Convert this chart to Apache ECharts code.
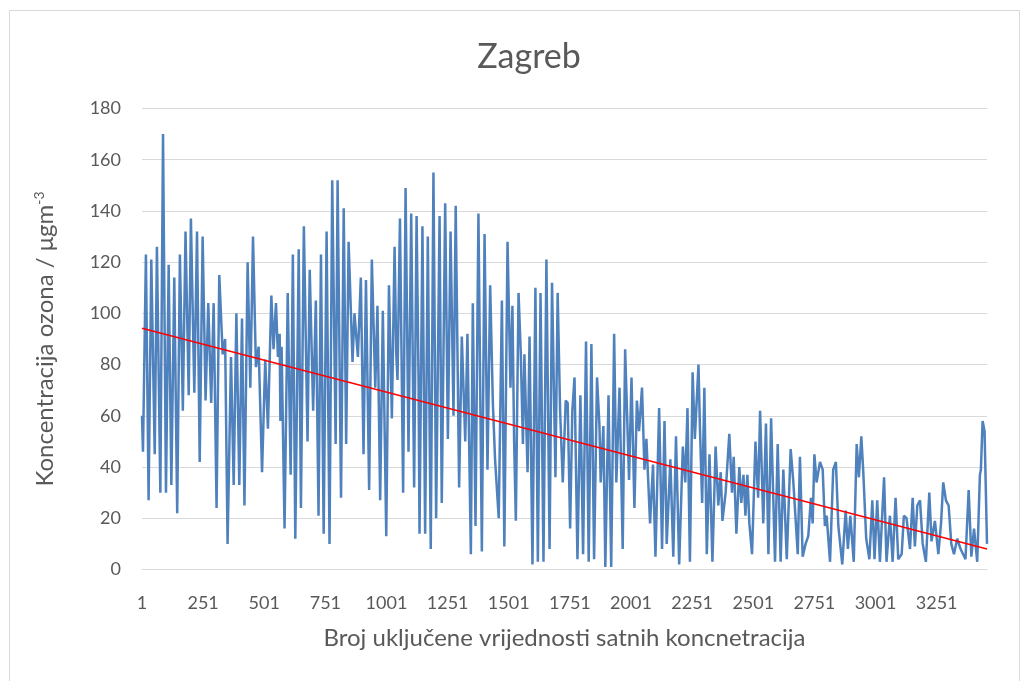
<!DOCTYPE html>
<html>
<head>
<meta charset="utf-8">
<script src="https://cdn.jsdelivr.net/npm/echarts@6/dist/echarts.min.js"></script>
<style>
  html, body { margin: 0; padding: 0; background: #fff; }
  #chart { width: 1027px; height: 681px; }
</style>
</head>
<body>
<div id="chart"></div>
<script>
// hourly ozone in Zagreb, peaks and troughs
const sampleNo = [
  1, 5, 17, 28, 39, 53, 62, 76, 87, 99, 110, 121, 133, 145, 156, 168, 179, 192, 201, 215,
  226, 237, 249, 261, 272, 284, 294, 306, 317, 331, 341, 351, 365, 376, 387, 399, 410, 420,
  433, 444, 455, 467, 478, 492, 505, 516, 530, 539, 549, 557, 564, 567, 572, 584, 597, 609,
  618, 628, 642, 651, 663, 678, 687, 701, 712, 723, 733, 744, 756, 768, 779, 793, 801, 815,
  826, 836, 846, 862, 870, 884, 896, 907, 917, 930, 941, 955, 964, 975, 986, 1000, 1011,
  1023, 1034, 1041, 1046, 1056, 1069, 1079, 1091, 1102, 1114, 1124, 1132, 1136, 1148, 1159,
  1170, 1182, 1193, 1204, 1218, 1227, 1241, 1252, 1263, 1275, 1284, 1298, 1309, 1323, 1332,
  1346, 1354, 1365, 1377, 1391, 1402, 1414, 1425, 1436, 1445, 1460, 1473, 1483, 1496, 1508,
  1516, 1523, 1530, 1541, 1550, 1559, 1565, 1578, 1586, 1598, 1610, 1620, 1631, 1643, 1655,
  1668, 1678, 1692, 1701, 1711, 1722, 1734, 1742, 1752, 1761, 1770, 1782, 1794, 1805, 1817,
  1828, 1839, 1850, 1862, 1872, 1877, 1888, 1896, 1909, 1920, 1932, 1941, 1954, 1967, 1977,
  1993, 2003, 2015, 2025, 2034, 2046, 2056, 2064, 2079, 2091, 2101, 2116, 2128, 2138, 2147,
  2162, 2174, 2185, 2198, 2213, 2223, 2232, 2242, 2253, 2262, 2277, 2283, 2292, 2301, 2311,
  2322, 2334, 2347, 2358, 2368, 2375, 2388, 2403, 2414, 2421, 2432, 2444, 2452, 2461, 2469,
  2477, 2485, 2496, 2510, 2521, 2529, 2542, 2553, 2563, 2574, 2590, 2601, 2613, 2624, 2638,
  2654, 2665, 2683, 2692, 2703, 2715, 2726, 2737, 2744, 2751, 2760, 2774, 2785, 2794, 2801,
  2815, 2828, 2839, 2849, 2865, 2879, 2888, 2898, 2912, 2924, 2933, 2943, 2951, 2963, 2976,
  2988, 2997, 3008, 3019, 3036, 3046, 3060, 3071, 3083, 3094, 3108, 3117, 3128, 3142, 3153,
  3162, 3172, 3183, 3194, 3207, 3221, 3230, 3244, 3258, 3269, 3278, 3289, 3300, 3311, 3322,
  3335, 3349, 3369, 3382, 3393, 3404, 3417, 3428, 3432, 3439, 3447, 3453, 3457
];
const ozone = [
  60, 46, 123, 27, 121, 45, 126, 30, 170, 30, 119, 33, 114, 22, 123, 62, 132, 68, 137, 69,
  132, 42, 130, 66, 104, 65, 104, 24, 115, 84, 90, 10, 83, 33, 100, 33, 98, 25,
  120, 71, 130, 79, 87, 38, 82, 55, 107, 86, 104, 83, 92, 58, 87, 16, 108, 37,
  123, 12, 125, 24, 134, 50, 117, 62, 105, 21, 123, 14, 132, 10, 152, 49, 152, 28,
  141, 49, 128, 81, 100, 83, 114, 45, 113, 31, 121, 71, 103, 27, 101, 13, 111,
  59, 126, 84, 74, 137, 30, 149, 46, 139, 32, 138, 75, 14, 134, 14,
  130, 8, 155, 20, 138, 26, 143, 51, 132, 60, 142, 32, 91, 50, 92,
  6, 104, 17, 139, 7, 131, 39, 111, 65, 43, 20, 105, 9, 128, 71,
  103, 50, 19, 108, 85, 49, 84, 38, 91, 2, 110, 3, 108, 3, 121,
  8, 112, 36, 108, 62, 34, 66, 65, 16, 62, 75, 4, 68, 6, 89,
  3, 88, 4, 75, 56, 34, 56, 1, 68, 1, 92, 34, 71, 8, 86,
  35, 75, 24, 66, 54, 71, 39, 51, 18, 41, 5, 63, 8, 58, 10,
  43, 5, 52, 2, 48, 34, 63, 3, 77, 51, 80, 55, 26, 71, 6,
  45, 3, 48, 25, 38, 19, 30, 53, 30, 44, 14, 40, 26, 37, 21,
  37, 18, 6, 50, 28, 62, 18, 57, 6, 59, 3, 49, 3, 39, 4,
  47, 34, 6, 44, 5, 10, 13, 28, 18, 45, 34, 42, 39, 17, 21,
  3, 39, 42, 17, 2, 23, 8, 21, 3, 49, 36, 52, 38, 12, 4,
  27, 4, 27, 3, 36, 3, 21, 3, 28, 4, 6, 21, 20, 8, 28,
  9, 25, 27, 10, 3, 30, 11, 19, 6, 18, 34, 27, 25, 10, 6,
  12, 8, 4, 31, 5, 16, 3, 37, 39, 58, 54, 54, 10
];
// linear trend, end points
const trendNo = [1, 3457];
const trendVal = [94.2, 8.0];
const xTicks = [1, 251, 501, 751, 1001, 1251, 1501, 1751, 2001, 2251, 2501, 2751, 3001, 3251];

const font = 'Lato, "Liberation Sans", sans-serif';
const grey = '#595959';

const chart = echarts.init(document.getElementById('chart'));
chart.setOption({
  animation: false,
  graphic: [{
    type: 'rect',
    shape: { x: 9.5, y: 10.5, width: 1010, height: 700 },
    style: { fill: 'none', stroke: '#d9d9d9', lineWidth: 1 },
    silent: true
  }],
  title: {
    text: 'Zagreb',
    left: 524,
    textAlign: 'center',
    top: 35,
    textStyle: { fontFamily: font, fontSize: 34, fontWeight: 'normal', color: grey }
  },
  grid: { left: 142, right: 40, top: 108.5, bottom: 111.5 },
  xAxis: {
    type: 'value',
    min: 1,
    max: 3457,
    splitLine: { show: false },
    axisLine: { show: true, lineStyle: { color: '#d9d9d9', width: 1 } },
    axisTick: { show: false },
    axisLabel: {
      customValues: xTicks,
      formatter: v => String(v),
      color: grey,
      fontFamily: font,
      fontSize: 18,
      margin: 25
    },
    name: 'Broj uključene vrijednosti satnih koncnetracija',
    nameLocation: 'middle',
    nameGap: 57,
    nameTextStyle: { fontFamily: font, fontSize: 24, color: grey }
  },
  yAxis: {
    type: 'value',
    min: 0,
    max: 180,
    interval: 20,
    axisLine: { show: false },
    axisTick: { show: false },
    splitLine: { lineStyle: { color: '#d9d9d9', width: 1 } },
    axisLabel: { color: grey, fontFamily: font, fontSize: 18, margin: 21 },
    name: 'Koncentracija ozona / μgm{sup|-3}',
    nameLocation: 'middle',
    nameGap: 84,
    nameRotate: 90,
    nameTextStyle: {
      fontFamily: font, fontSize: 24, color: grey,
      rich: {
        sup: { fontFamily: font, fontSize: 14, color: grey, verticalAlign: 'top', padding: [0, 0, 12, 0] }
      }
    }
  },
  series: [
    {
      name: 'ozon',
      type: 'line',
      data: sampleNo.map((n, i) => [n, ozone[i]]),
      showSymbol: false,
      lineStyle: { color: '#4f81bd', width: 2.5 },
      z: 2
    },
    {
      name: 'trend',
      type: 'line',
      data: trendNo.map((n, i) => [n, trendVal[i]]),
      showSymbol: false,
      lineStyle: { color: '#ff0000', width: 1.5 },
      z: 3
    }
  ]
});
</script>
</body>
</html>
